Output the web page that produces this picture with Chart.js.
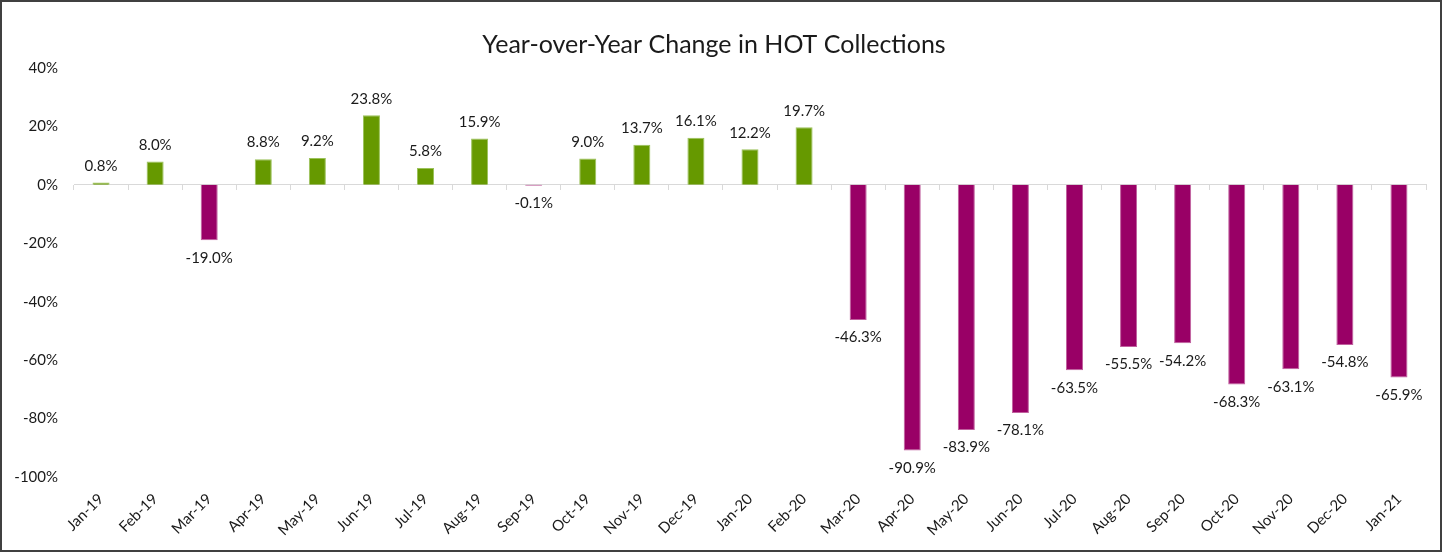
<!DOCTYPE html>
<html>
<head>
<meta charset="utf-8">
<script src="https://cdn.jsdelivr.net/npm/chart.js@4"></script>
<style>
  html, body { margin: 0; padding: 0; background: #fff; }
  #box { width: 1442px; height: 552px; box-sizing: border-box; border: 2px solid #404040; background: #fff; }
  #wrap { position: relative; width: 1438px; height: 548px; }
</style>
</head>
<body>
<div id="box"><div id="wrap"><canvas id="myChart"></canvas></div></div>
<script>
// months on the x axis
const months = ['Jan-19','Feb-19','Mar-19','Apr-19','May-19','Jun-19','Jul-19','Aug-19','Sep-19','Oct-19','Nov-19','Dec-19',
  'Jan-20','Feb-20','Mar-20','Apr-20','May-20','Jun-20','Jul-20','Aug-20','Sep-20','Oct-20','Nov-20','Dec-20','Jan-21'];
// year over year change, percent
const yoyChange = [0.8, 8.0, -19.0, 8.8, 9.2, 23.8, 5.8, 15.9, -0.1, 9.0, 13.7, 16.1,
  12.2, 19.7, -46.3, -90.9, -83.9, -78.1, -63.5, -55.5, -54.2, -68.3, -63.1, -54.8, -65.9];
const yTicks = [40, 20, 0, -20, -40, -60, -80, -100];

let green = '#669900';
let magenta = '#990066';
let colors = yoyChange.map(v => v >= 0 ? green : magenta);
let edges = yoyChange.map(v => v >= 0 ? '#9bc25a' : '#c0609e');

// draws the value labels above / below each bar
const valueLabels = {
  id: 'valueLabels',
  afterDatasetsDraw(chart) {
    let ctx = chart.ctx;
    let meta = chart.getDatasetMeta(0);
    ctx.save();
    ctx.font = '15px Lato';
    ctx.fillStyle = '#1a1a1a';
    ctx.textAlign = 'center';
    meta.data.forEach(function(bar, i) {
      let v = yoyChange[i];
      let txt = v.toFixed(1) + '%';
      if (v >= 0) {
        ctx.textBaseline = 'bottom';
        ctx.fillText(txt, bar.x, bar.y - 9);
      } else {
        ctx.textBaseline = 'top';
        ctx.fillText(txt, bar.x, Math.max(bar.y, bar.base + 1) + 10);
      }
    });
    ctx.restore();
  }
};

var ctx = document.getElementById('myChart');
var chart = new Chart(ctx, {
  type: 'bar',
  data: {
    labels: months,
    datasets: [{
      data: yoyChange,
      backgroundColor: colors,
      borderColor: edges,
      borderWidth: 1,
      minBarLength: 1,
      categoryPercentage: 1,
      barPercentage: 0.315
    }]
  },
  options: {
    responsive: true,
    maintainAspectRatio: false,
    animation: false,
    layout: { padding: { top: 28, right: 14, bottom: 0, left: 0 } },
    plugins: {
      legend: { display: false },
      tooltip: { enabled: false },
      title: {
        display: true,
        text: 'Year-over-Year Change in HOT Collections',
        color: '#1a1a1a',
        font: { family: 'Lato', size: 25, weight: 'normal' },
        padding: { top: 0, bottom: 8 }
      }
    },
    scales: {
      x: {
        type: 'category',
        grid: { display: false },
        border: { display: false },
        ticks: {
          color: '#1a1a1a',
          font: { family: 'Lato', size: 15 },
          minRotation: 45,
          maxRotation: 45,
          autoSkip: false,
          padding: 5
        },
        afterFit(scale) { scale.height = 73; }
      },
      zero: {
        type: 'category',
        axis: 'x',
        labels: months,
        position: { y: 0 },
        offset: true,
        grid: { offset: true, drawOnChartArea: false, drawTicks: true, tickLength: 5, color: '#d9d9d9' },
        border: { display: true, color: '#d9d9d9', width: 1 },
        ticks: { display: false }
      },
      y: {
        min: -100,
        max: 40,
        afterBuildTicks(scale) { scale.ticks = yTicks.map(v => ({ value: v })); },
        grid: { display: false, drawTicks: false },
        border: { display: false },
        ticks: {
          color: '#1a1a1a',
          font: { family: 'Lato', size: 15 },
          padding: 16,
          callback: v => v + '%'
        },
        afterFit(scale) { scale.width = 72; }
      }
    }
  },
  plugins: [valueLabels]
});
</script>
</body>
</html>
